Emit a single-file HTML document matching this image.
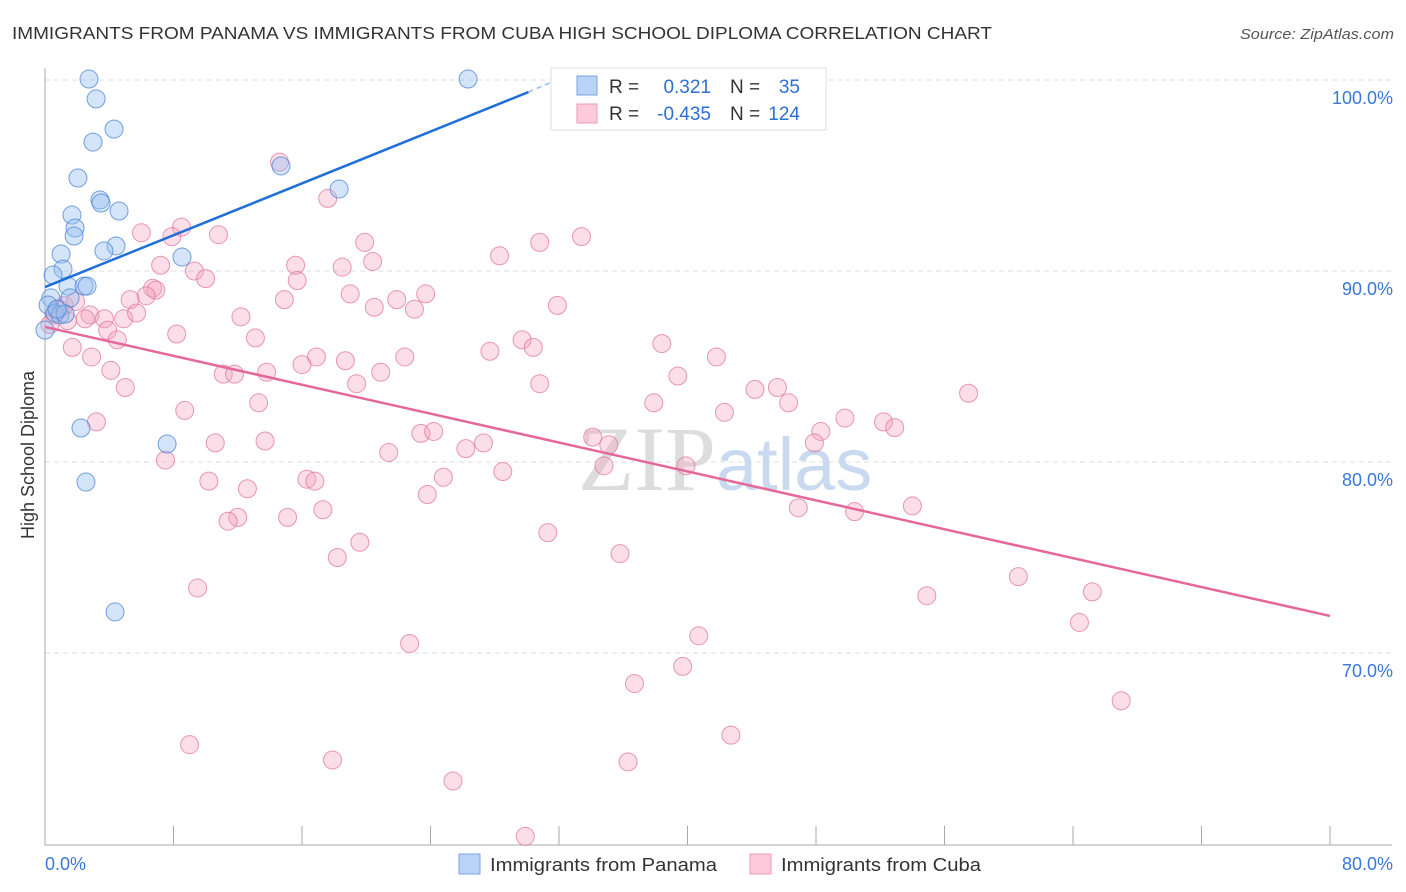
<!DOCTYPE html>
<html><head><meta charset="utf-8"><style>
body{margin:0;background:#fff;font-family:"Liberation Sans",sans-serif}
svg{display:block}
</style></head><body>
<svg id="chart" width="1406" height="892" xmlns="http://www.w3.org/2000/svg">
<text x="12" y="39" font-size="17.5" fill="#333" textLength="980" lengthAdjust="spacingAndGlyphs">IMMIGRANTS FROM PANAMA VS IMMIGRANTS FROM CUBA HIGH SCHOOL DIPLOMA CORRELATION CHART</text>
<text x="1240" y="39" font-size="15" fill="#555" font-style="italic" textLength="154" lengthAdjust="spacingAndGlyphs">Source: ZipAtlas.com</text>
<g id="grid"></g>
<text x="716" y="490" font-size="92" fill="#ddd" text-anchor="end" font-family="Liberation Serif">ZIP</text>
<text x="716" y="490" font-size="74" fill="#c9daf0">atlas</text>
<g id="pts"></g>
<g id="lines"></g>
<text transform="translate(34,455) rotate(-90)" font-size="18" fill="#333" text-anchor="middle">High School Diploma</text>
<g>
<rect x="551" y="68" width="275" height="62" fill="#fff" stroke="#ddd"/>
<rect x="577" y="76" width="20" height="19" fill="#b8d3f6" stroke="#7aa6e0"/>
<rect x="577" y="104" width="20" height="19" fill="#fccadb" stroke="#ec9ab8"/>
<text x="609" y="93" font-size="19" fill="#333">R =</text>
<text x="711" y="93" font-size="19" fill="#2c6fd6" text-anchor="end">0.321</text>
<text x="730" y="93" font-size="19" fill="#333">N =</text>
<text x="800" y="93" font-size="19" fill="#2c6fd6" text-anchor="end">35</text>
<text x="609" y="120" font-size="19" fill="#333">R =</text>
<text x="711" y="120" font-size="19" fill="#2c6fd6" text-anchor="end">-0.435</text>
<text x="730" y="120" font-size="19" fill="#333">N =</text>
<text x="800" y="120" font-size="19" fill="#2c6fd6" text-anchor="end">124</text>
</g>
<g>
<rect x="459" y="854" width="21" height="20" fill="#b8d3f6" stroke="#7aa6e0"/>
<text x="490" y="871" font-size="18" fill="#333" textLength="227" lengthAdjust="spacingAndGlyphs">Immigrants from Panama</text>
<rect x="750" y="854" width="21" height="20" fill="#fccadb" stroke="#ec9ab8"/>
<text x="781" y="871" font-size="18" fill="#333" textLength="200" lengthAdjust="spacingAndGlyphs">Immigrants from Cuba</text>
</g>
</svg>
<script>
const yTicks=[100,90,80,70];
const yTickLabels=["100.0%","90.0%","80.0%","70.0%"];
const xTickVals=[8,16,24,32,40,48,56,64,72,80];
const xEndLabels=["0.0%","80.0%"];
const panamaX=[2.74,3.18,4.30,2.99,2.05,18.31,14.69,3.42,3.49,4.61,1.68,1.87,1.81,4.42,3.67,8.53,1.00,1.12,0.50,1.43,2.43,2.62,1.56,0.37,0.19,0.62,0.93,1.25,0.0,2.24,7.60,2.55,4.36,26.34,0.75];
const panamaY=[100.05,99.01,97.43,96.75,94.87,94.29,95.50,93.72,93.56,93.14,92.93,92.25,91.83,91.31,91.05,90.73,90.89,90.10,89.79,89.21,89.21,89.21,88.59,88.59,88.22,87.80,87.70,87.75,86.91,81.78,80.94,78.95,72.15,100.05,88.0];
const cubaX=[14.6,17.6,6.0,8.5,7.9,10.8,19.9,30.8,33.4,28.3,20.4,7.2,9.3,10.0,15.6,18.5,15.7,6.7,6.9,6.3,5.3,14.9,19.0,23.7,21.9,20.5,23.0,31.9,2.8,3.7,4.9,5.7,12.2,1.4,8.2,3.9,4.5,1.7,13.1,29.7,30.4,38.4,2.9,16.9,18.7,22.4,27.7,41.8,16.0,4.1,11.1,11.8,13.8,20.9,5.0,19.4,30.8,39.4,44.2,45.6,57.5,37.9,46.3,13.3,8.7,42.3,3.2,49.8,52.2,52.9,48.3,23.4,24.2,34.1,10.6,13.7,27.3,26.2,35.1,47.9,21.4,7.5,34.8,39.9,28.5,24.8,10.2,16.3,16.8,12.6,23.8,46.9,50.4,54.0,17.3,12.0,11.4,15.1,31.3,19.6,18.2,35.8,60.6,9.5,54.9,65.2,64.4,22.7,40.7,39.7,36.7,67.0,9.0,42.7,17.9,36.3,25.4,29.9,0.9,0.6,0.3,1.2,2.5,1.9];
const cubaY=[95.7,93.8,92.0,92.3,91.8,91.9,91.5,91.5,91.8,90.8,90.5,90.3,90.0,89.6,90.3,90.2,89.5,89.1,89.0,88.7,88.5,88.5,88.8,88.8,88.5,88.1,88.0,88.2,87.7,87.5,87.5,87.8,87.6,87.4,86.7,86.9,86.4,86.0,86.5,86.4,86.0,86.2,85.5,85.5,85.3,85.5,85.8,85.5,85.1,84.8,84.6,84.6,84.7,84.7,83.9,84.1,84.1,84.5,83.8,83.9,83.6,83.1,83.1,83.1,82.7,82.6,82.1,82.3,82.1,81.8,81.6,81.5,81.6,81.3,81.0,81.1,81.0,80.7,80.9,81.0,80.5,80.1,79.8,79.8,79.5,79.2,79.0,79.1,79.0,78.6,78.3,77.6,77.4,77.7,77.5,77.1,76.9,77.1,76.3,75.8,75.0,75.2,74.0,73.4,73.0,73.2,71.6,70.5,70.9,69.3,68.4,67.5,65.2,65.7,64.4,64.3,63.3,60.4,88.0,87.7,87.2,88.2,87.5,88.4];
const panamaTrend=[[0,89.16],[30.1,99.37]];
const panamaTrendDash=[[30.1,99.37],[33.5,100.6]];
const cubaTrend=[[0,87.07],[80,71.94]];

const NS="http://www.w3.org/2000/svg";
const X=v=>45+v*(1285/80);
const Y=v=>80+(100-v)*19.1;
function mk(t,a,p){const e=document.createElementNS(NS,t);for(const k in a)e.setAttribute(k,a[k]);p.appendChild(e);return e;}
const grid=document.getElementById('grid');
yTicks.forEach((t,i)=>{
 const l=mk('line',{x1:45,x2:1392,y1:Y(t),y2:Y(t),stroke:'#ddd','stroke-dasharray':'5,4'},grid);
 
 
 const tx=mk('text',{x:1393,y:Y(t)+24,'font-size':18,fill:'#3a78d8','text-anchor':'end'},grid);
 tx.textContent=yTickLabels[i];
 
 
});
const ax=mk('line',{x1:45,x2:45,y1:68,y2:845,stroke:'#aaa'},grid);


const bx=mk('line',{x1:45,x2:1392,y1:845,y2:845,stroke:'#aaa'},grid);


xTickVals.forEach(v=>{
 const tk=mk('line',{x1:X(v),x2:X(v),y1:826,y2:845,stroke:'#aaa'},grid);
 
 
});
[[0,'start'],[80,'end']].forEach((d,i)=>{
 const t=mk('text',{x:i===0?45:1393,y:870,'font-size':18,fill:'#3a78d8','text-anchor':d[1]},grid);
 t.textContent=xEndLabels[i];
 
 
});
const pts=document.getElementById('pts');
cubaX.forEach((x,i)=>{
 const c=mk('circle',{cx:X(x),cy:Y(cubaY[i]),r:9,fill:'rgba(244,160,190,0.35)',stroke:'rgba(224,110,150,0.7)','stroke-width':1},pts);
 
 
});
panamaX.forEach((x,i)=>{
 const c=mk('circle',{cx:X(x),cy:Y(panamaY[i]),r:9,fill:'rgba(150,190,240,0.4)',stroke:'rgba(70,130,215,0.75)','stroke-width':1},pts);
 
 
});
const lines=document.getElementById('lines');
const bl=mk('line',{x1:X(panamaTrend[0][0]),y1:Y(panamaTrend[0][1]),x2:X(panamaTrend[1][0]),y2:Y(panamaTrend[1][1]),stroke:'#1f6fd8','stroke-width':2.5},lines);


const bd=mk('line',{x1:X(panamaTrendDash[0][0]),y1:Y(panamaTrendDash[0][1]),x2:X(panamaTrendDash[1][0]),y2:Y(panamaTrendDash[1][1]),stroke:'#9bbce8','stroke-width':1.5,'stroke-dasharray':'5,4'},lines);


const pl=mk('line',{x1:X(cubaTrend[0][0]),y1:Y(cubaTrend[0][1]),x2:X(cubaTrend[1][0]),y2:Y(cubaTrend[1][1]),stroke:'#e5689a','stroke-width':2.5},lines);


</script>
</body></html>
